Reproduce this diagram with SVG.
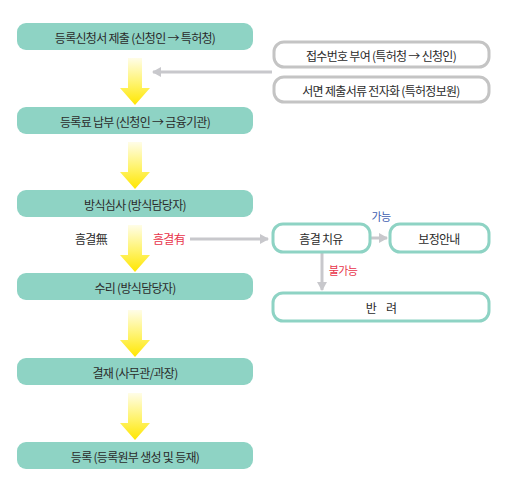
<svg xmlns="http://www.w3.org/2000/svg" width="513" height="501" viewBox="0 0 513 501">
<defs>
<linearGradient id="yg" x1="0" y1="0" x2="0" y2="1">
<stop offset="0" stop-color="#fffde8"/>
<stop offset="0.55" stop-color="#fff36a"/>
<stop offset="1" stop-color="#ffe600"/>
</linearGradient>
<marker id="ah" markerWidth="10" markerHeight="10" refX="8" refY="5" orient="auto" markerUnits="userSpaceOnUse">
<path d="M0,0 L9,5 L0,10 Z" fill="#c8c8cc"/>
</marker>
</defs>
<style>
.main{fill:#8ed3c4;}
.gbox{fill:#fff;stroke:#c4c4c4;stroke-width:3;}
.tbox{fill:#fff;stroke:#8ed3c4;stroke-width:3;}
text{font-family:"Noto Sans CJK KR","Noto Sans",sans-serif;font-size:12px;fill:#2b2b2b;text-anchor:middle;dominant-baseline:central;letter-spacing:-0.7px;}
.red{fill:#e8334a;}
.blue{fill:#3f5fb0;}
.conn{stroke:#c8c8cc;stroke-width:3;fill:none;marker-end:url(#ah);}
.ya{fill:url(#yg);}
</style>

<g id="connectors">
<path class="ya" d="M128,58 H142 V88 H150 L135,105 L120,88 H128 Z"/>
<path class="ya" d="M128,142 H142 V172 H150 L135,189 L120,172 H128 Z"/>
<path class="ya" d="M128,225 H142 V255 H150 L135,272 L120,255 H128 Z"/>
<path class="ya" d="M128,310 H142 V340 H150 L135,357 L120,340 H128 Z"/>
<path class="ya" d="M128,393 H142 V423 H150 L135,440 L120,423 H128 Z"/>
<line class="conn" x1="272" y1="72" x2="153" y2="72"/>
<line class="conn" x1="190" y1="239" x2="268" y2="239"/>
<line class="conn" x1="371" y1="238" x2="387" y2="238"/>
<line class="conn" x1="322" y1="253" x2="322" y2="290"/>
</g>

<g id="n1"><rect class="main" x="17" y="23" width="236" height="27" rx="9"/><text x="135" y="37">등록신청서 제출 (신청인 → 특허청)</text></g>
<g id="n2"><rect class="main" x="17" y="107" width="236" height="27" rx="9"/><text x="135" y="121">등록료 납부 (신청인 → 금융기관)</text></g>
<g id="n3"><rect class="main" x="17" y="190" width="236" height="27" rx="9"/><text x="135" y="204">방식심사 (방식담당자)</text></g>
<g id="n4"><rect class="main" x="17" y="273" width="236" height="27" rx="9"/><text x="135" y="287">수리 (방식담당자)</text></g>
<g id="n5"><rect class="main" x="17" y="358" width="236" height="27" rx="9"/><text x="135" y="372">결재 (사무관/과장)</text></g>
<g id="n6"><rect class="main" x="17" y="442" width="236" height="27" rx="9"/><text x="135" y="456">등록 (등록원부 생성 및 등재)</text></g>

<g id="r1"><rect class="gbox" x="274" y="42" width="215" height="25" rx="10"/><text x="381" y="55">접수번호 부여 (특허청 → 신청인)</text></g>
<g id="r2"><rect class="gbox" x="274" y="77" width="215" height="25" rx="10"/><text x="381" y="90">서면 제출서류 전자화 (특허정보원)</text></g>

<g id="lbl1"><text x="91" y="238">흠결無</text></g>
<g id="lbl2"><text class="red" x="169" y="238">흠결有</text></g>

<g id="c1"><rect class="tbox" x="273" y="224" width="97" height="28" rx="10"/><text x="321" y="238">흠결 치유</text></g>
<g id="c2"><rect class="tbox" x="390" y="224" width="99" height="28" rx="10"/><text x="439" y="238">보정안내</text></g>
<g id="c3"><rect class="tbox" x="273" y="293" width="216" height="28" rx="10"/><text x="381" y="307" style="word-spacing:8px">반 려</text></g>

<g id="lbl3"><text class="blue" x="381" y="216" style="font-size:11px">가능</text></g>
<g id="lbl4"><text class="red" x="343" y="270" style="font-size:11px">불가능</text></g>
</svg>
